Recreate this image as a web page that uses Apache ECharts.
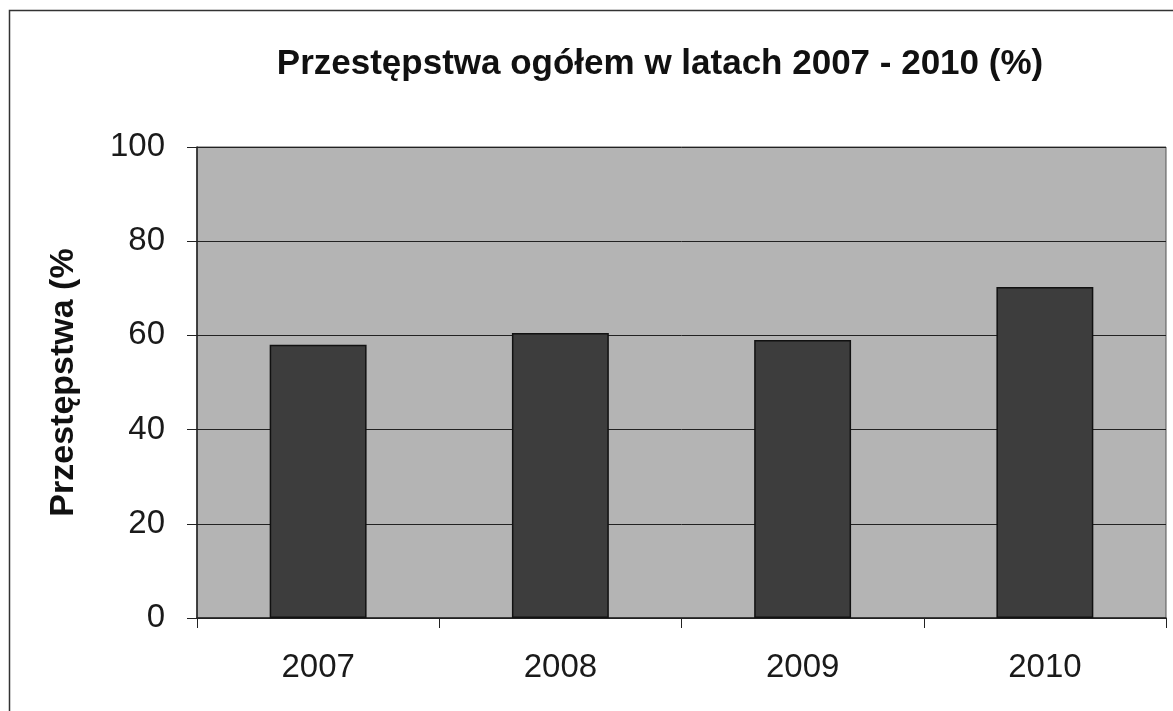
<!DOCTYPE html>
<html>
<head>
<meta charset="utf-8">
<script src="https://cdn.jsdelivr.net/npm/echarts@6/dist/echarts.min.js"></script>
<style>
html,body{margin:0;padding:0;background:#fff;}
#c{width:1173px;height:711px;}
</style>
</head>
<body>
<div id="c"></div>
<script>
var titleText = 'Przestępstwa ogółem w latach 2007 - 2010 (%)';
var yAxisName = 'Przestępstwa (%';
var categories = ['2007', '2008', '2009', '2010'];
var values = [58.0, 60.5, 59.0, 70.3];
var yMin = 0, yMax = 100, yStep = 20;

var chart = echarts.init(document.getElementById('c'), null, {renderer: 'canvas'});
chart.setOption({
  animation: false,
  backgroundColor: '#ffffff',
  graphic: [{
    type: 'rect', z: -10,
    shape: {x: 9.5, y: 10.5, width: 1200, height: 760},
    style: {fill: 'none', stroke: '#333', lineWidth: 1.5}
  }],
  title: {
    text: titleText,
    left: 655, top: 42, textAlign: 'center',
    textStyle: {fontFamily: 'Liberation Sans, Arial, sans-serif', fontWeight: 'bold', fontSize: 35, color: '#111'}
  },
  grid: {
    left: 197, right: 7, top: 147, bottom: 93,
    show: true, backgroundColor: '#b4b4b4', borderColor: '#555', borderWidth: 1
  },
  xAxis: {
    type: 'category',
    data: categories,
    axisLine: {lineStyle: {color: '#222', width: 1.5}},
    axisTick: {show: true, length: 10, lineStyle: {color: '#222'}},
    axisLabel: {margin: 33, fontSize: 33, color: '#1a1a1a', fontFamily: 'Liberation Sans, Arial, sans-serif'}
  },
  yAxis: {
    type: 'value',
    min: yMin, max: yMax, interval: yStep,
    name: yAxisName,
    nameLocation: 'middle',
    nameGap: 116,
    nameRotate: 90,
    nameTextStyle: {fontSize: 34, fontWeight: 'bold', color: '#111', fontFamily: 'Liberation Sans, Arial, sans-serif'},
    axisLine: {show: true, lineStyle: {color: '#222', width: 1.5}},
    axisTick: {show: true, length: 10, lineStyle: {color: '#222'}},
    axisLabel: {margin: 32, fontSize: 33, color: '#1a1a1a', fontFamily: 'Liberation Sans, Arial, sans-serif'},
    splitLine: {show: true, lineStyle: {color: '#222', width: 1}}
  },
  series: [{
    type: 'bar',
    data: values,
    barWidth: '40%',
    itemStyle: {color: '#3d3d3d', borderColor: '#111', borderWidth: 1.5}
  }]
});
</script>
</body>
</html>
